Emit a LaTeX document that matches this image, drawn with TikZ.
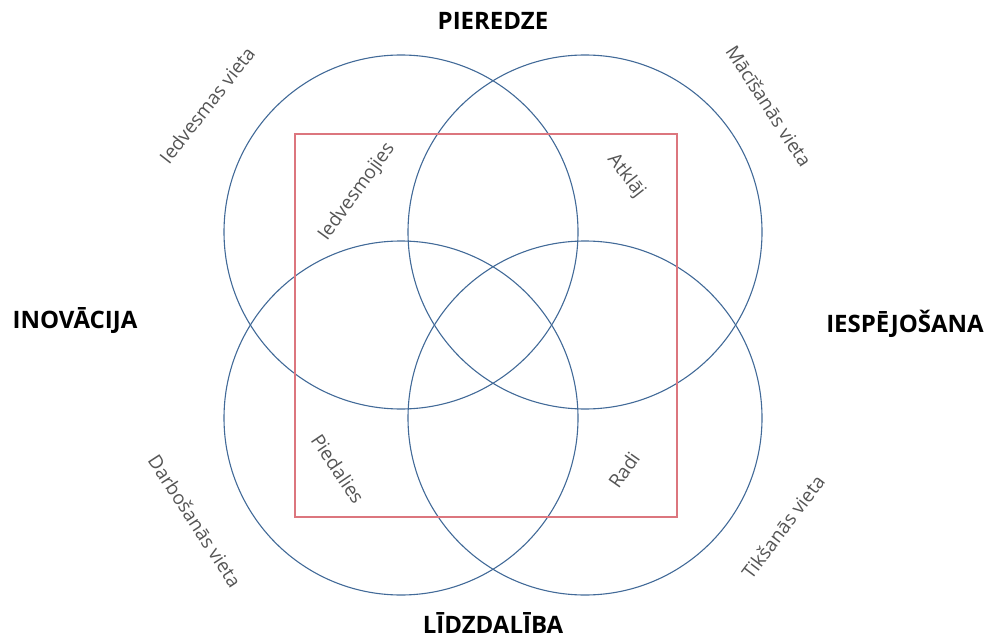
\documentclass[tikz,border=0pt]{standalone}
\usepackage{fontspec}
\setmainfont{Open Sans}
\usepackage{tikz}
\usepackage{xcolor}
\definecolor{vennblue}{RGB}{66,106,152}
\definecolor{framered}{RGB}{220,118,126}
\definecolor{placegray}{RGB}{85,85,85}

\begin{document}
\begin{tikzpicture}[x=1pt, y=-1pt,
    ring/.style={draw=vennblue, line width=1.1pt},
    heading/.style={font=\fontsize{24}{28}\selectfont\bfseries, inner sep=0pt},
    place/.style={font=\fontsize{19}{22}\selectfont, text=placegray, inner sep=0pt}]
    \useasboundingbox (0,0) rectangle (988,639);

    \coordinate (tl) at (401,232);
    \coordinate (tr) at (585,232);
    \coordinate (bl) at (401,418);
    \coordinate (br) at (585,418);

    \draw[ring] (tl) circle (177pt);
    \draw[ring] (tr) circle (177pt);
    \draw[ring] (bl) circle (177pt);
    \draw[ring] (br) circle (177pt);

    \draw[framered, line width=1.1pt] (295,134) rectangle (677,517);

    \node[heading] (pieredze) at (493,21) {PIEREDZE};
    \node[heading] (lidzdaliba) at (493,623) {LĪDZDALĪBA};
    \node[heading] (inovacija) at (75,321) {INOVĀCIJA};
    \node[heading] (iespejosana) at (905,324) {IESPĒJOŠANA};

    \node[place, rotate=52] (iedvesmasv) at (207,105) {Iedvesmas vieta};
    \node[place, rotate=-57] (macisanasv) at (769,106) {Mācīšanās vieta};
    \node[place, rotate=-57] (darbosanasv) at (195,521) {Darbošanās vieta};
    \node[place, rotate=53] (tiksanasv) at (783,527) {Tikšanās vieta};

    \node[place, rotate=54] (iedvesmojies) at (357,192) {Iedvesmojies};
    \node[place, rotate=-52] (atklaj) at (626,176) {Atklāj};
    \node[place, rotate=-56] (piedalies) at (338,469) {Piedalies};
    \node[place, rotate=55] (radi) at (624,470) {Radi};
\end{tikzpicture}
\end{document}
